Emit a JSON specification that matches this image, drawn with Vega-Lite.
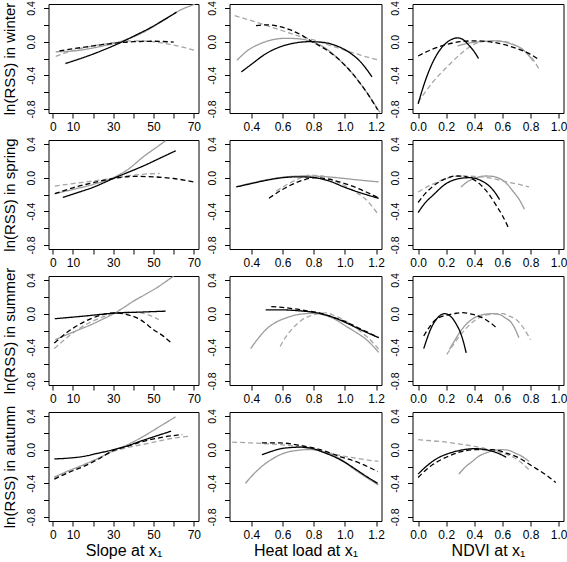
{
"$schema": "https://vega.github.io/schema/vega-lite/v6.json",
"padding": {"left": 1.5, "top": 0, "right": 0, "bottom": 0},
"background": "white",
"config": {
  "font": "Liberation Sans",
  "view": {"stroke": "black", "strokeWidth": 1},
  "axis": {"domain": false, "grid": false, "tickColor": "black", "tickSize": 5, "labelColor": "black", "titleColor": "black", "labelFont": "Liberation Sans", "titleFont": "Liberation Sans", "titleFontWeight": "normal", "labelOverlap": false},
  "axisX": {"labelFontSize": 12, "labelPadding": 3, "titleFontSize": 16, "titlePadding": 2, "labelFlush": false},
  "axisY": {"labelFontSize": 10.5, "labelAngle": -90, "labelPadding": 7, "titleFontSize": 15, "titlePadding": 9}
},
"data": {"values": [
{"s":"winter","v":"slope","m":"M1","x":1.5,"y":-0.12},{"s":"winter","v":"slope","m":"M1","x":8,"y":-0.115},{"s":"winter","v":"slope","m":"M1","x":14,"y":-0.1},{"s":"winter","v":"slope","m":"M1","x":20,"y":-0.075},{"s":"winter","v":"slope","m":"M1","x":26,"y":-0.045},{"s":"winter","v":"slope","m":"M1","x":32,"y":-0.01},{"s":"winter","v":"slope","m":"M1","x":38,"y":0.04},{"s":"winter","v":"slope","m":"M1","x":44,"y":0.1},{"s":"winter","v":"slope","m":"M1","x":50,"y":0.18},{"s":"winter","v":"slope","m":"M1","x":56,"y":0.27},{"s":"winter","v":"slope","m":"M1","x":62,"y":0.36},{"s":"winter","v":"slope","m":"M1","x":70.5,"y":0.445},
{"s":"winter","v":"slope","m":"M2","x":1.5,"y":-0.175},{"s":"winter","v":"slope","m":"M2","x":6,"y":-0.135},{"s":"winter","v":"slope","m":"M2","x":11,"y":-0.1},{"s":"winter","v":"slope","m":"M2","x":18,"y":-0.06},{"s":"winter","v":"slope","m":"M2","x":25,"y":-0.03},{"s":"winter","v":"slope","m":"M2","x":32,"y":-0.005},{"s":"winter","v":"slope","m":"M2","x":40,"y":0.01},{"s":"winter","v":"slope","m":"M2","x":47,"y":0.005},{"s":"winter","v":"slope","m":"M2","x":54,"y":-0.015},{"s":"winter","v":"slope","m":"M2","x":60,"y":-0.04},{"s":"winter","v":"slope","m":"M2","x":66,"y":-0.075},{"s":"winter","v":"slope","m":"M2","x":71.5,"y":-0.11},
{"s":"winter","v":"slope","m":"M3","x":6.3,"y":-0.26},{"s":"winter","v":"slope","m":"M3","x":12,"y":-0.215},{"s":"winter","v":"slope","m":"M3","x":18,"y":-0.165},{"s":"winter","v":"slope","m":"M3","x":24,"y":-0.11},{"s":"winter","v":"slope","m":"M3","x":30,"y":-0.05},{"s":"winter","v":"slope","m":"M3","x":36,"y":0.016},{"s":"winter","v":"slope","m":"M3","x":42,"y":0.087},{"s":"winter","v":"slope","m":"M3","x":48,"y":0.16},{"s":"winter","v":"slope","m":"M3","x":54,"y":0.243},{"s":"winter","v":"slope","m":"M3","x":61.4,"y":0.35},
{"s":"winter","v":"slope","m":"M4","x":3.3,"y":-0.11},{"s":"winter","v":"slope","m":"M4","x":10,"y":-0.085},{"s":"winter","v":"slope","m":"M4","x":20,"y":-0.05},{"s":"winter","v":"slope","m":"M4","x":30,"y":-0.02},{"s":"winter","v":"slope","m":"M4","x":40,"y":0},{"s":"winter","v":"slope","m":"M4","x":50,"y":0.005},{"s":"winter","v":"slope","m":"M4","x":60,"y":-0.005},
{"s":"winter","v":"heat","m":"M1","x":0.308,"y":-0.22},{"s":"winter","v":"heat","m":"M1","x":0.38,"y":-0.1},{"s":"winter","v":"heat","m":"M1","x":0.45,"y":-0.03},{"s":"winter","v":"heat","m":"M1","x":0.53,"y":0.02},{"s":"winter","v":"heat","m":"M1","x":0.62,"y":0.04},{"s":"winter","v":"heat","m":"M1","x":0.7,"y":0.035},{"s":"winter","v":"heat","m":"M1","x":0.78,"y":0.005},{"s":"winter","v":"heat","m":"M1","x":0.85,"y":-0.05},{"s":"winter","v":"heat","m":"M1","x":0.9,"y":-0.11},{"s":"winter","v":"heat","m":"M1","x":0.95,"y":-0.19},{"s":"winter","v":"heat","m":"M1","x":1.0,"y":-0.28},{"s":"winter","v":"heat","m":"M1","x":1.05,"y":-0.38},{"s":"winter","v":"heat","m":"M1","x":1.1,"y":-0.5},{"s":"winter","v":"heat","m":"M1","x":1.15,"y":-0.63},{"s":"winter","v":"heat","m":"M1","x":1.2,"y":-0.77},{"s":"winter","v":"heat","m":"M1","x":1.225,"y":-0.84},
{"s":"winter","v":"heat","m":"M2","x":0.293,"y":0.31},{"s":"winter","v":"heat","m":"M2","x":0.4,"y":0.25},{"s":"winter","v":"heat","m":"M2","x":0.5,"y":0.19},{"s":"winter","v":"heat","m":"M2","x":0.6,"y":0.13},{"s":"winter","v":"heat","m":"M2","x":0.7,"y":0.07},{"s":"winter","v":"heat","m":"M2","x":0.8,"y":0.02},{"s":"winter","v":"heat","m":"M2","x":0.9,"y":-0.04},{"s":"winter","v":"heat","m":"M2","x":1.0,"y":-0.1},{"s":"winter","v":"heat","m":"M2","x":1.1,"y":-0.16},{"s":"winter","v":"heat","m":"M2","x":1.22,"y":-0.22},
{"s":"winter","v":"heat","m":"M3","x":0.336,"y":-0.36},{"s":"winter","v":"heat","m":"M3","x":0.4,"y":-0.27},{"s":"winter","v":"heat","m":"M3","x":0.496,"y":-0.14},{"s":"winter","v":"heat","m":"M3","x":0.58,"y":-0.065},{"s":"winter","v":"heat","m":"M3","x":0.667,"y":-0.02},{"s":"winter","v":"heat","m":"M3","x":0.773,"y":0},{"s":"winter","v":"heat","m":"M3","x":0.858,"y":-0.008},{"s":"winter","v":"heat","m":"M3","x":0.944,"y":-0.048},{"s":"winter","v":"heat","m":"M3","x":1.029,"y":-0.128},{"s":"winter","v":"heat","m":"M3","x":1.104,"y":-0.247},{"s":"winter","v":"heat","m":"M3","x":1.174,"y":-0.418},
{"s":"winter","v":"heat","m":"M4","x":0.43,"y":0.19},{"s":"winter","v":"heat","m":"M4","x":0.5,"y":0.2},{"s":"winter","v":"heat","m":"M4","x":0.58,"y":0.18},{"s":"winter","v":"heat","m":"M4","x":0.65,"y":0.14},{"s":"winter","v":"heat","m":"M4","x":0.72,"y":0.08},{"s":"winter","v":"heat","m":"M4","x":0.8,"y":-0.01},{"s":"winter","v":"heat","m":"M4","x":0.9,"y":-0.12},{"s":"winter","v":"heat","m":"M4","x":1.0,"y":-0.28},{"s":"winter","v":"heat","m":"M4","x":1.1,"y":-0.5},{"s":"winter","v":"heat","m":"M4","x":1.15,"y":-0.63},{"s":"winter","v":"heat","m":"M4","x":1.21,"y":-0.81},
{"s":"winter","v":"ndvi","m":"M1","x":0.28,"y":-0.05},{"s":"winter","v":"ndvi","m":"M1","x":0.35,"y":-0.02},{"s":"winter","v":"ndvi","m":"M1","x":0.45,"y":0},{"s":"winter","v":"ndvi","m":"M1","x":0.55,"y":0.01},{"s":"winter","v":"ndvi","m":"M1","x":0.65,"y":-0.02},{"s":"winter","v":"ndvi","m":"M1","x":0.75,"y":-0.1},{"s":"winter","v":"ndvi","m":"M1","x":0.82,"y":-0.23},
{"s":"winter","v":"ndvi","m":"M2","x":0,"y":-0.72},{"s":"winter","v":"ndvi","m":"M2","x":0.1,"y":-0.49},{"s":"winter","v":"ndvi","m":"M2","x":0.2,"y":-0.31},{"s":"winter","v":"ndvi","m":"M2","x":0.3,"y":-0.15},{"s":"winter","v":"ndvi","m":"M2","x":0.4,"y":-0.03},{"s":"winter","v":"ndvi","m":"M2","x":0.5,"y":0.01},{"s":"winter","v":"ndvi","m":"M2","x":0.6,"y":0.005},{"s":"winter","v":"ndvi","m":"M2","x":0.7,"y":-0.05},{"s":"winter","v":"ndvi","m":"M2","x":0.78,"y":-0.14},{"s":"winter","v":"ndvi","m":"M2","x":0.83,"y":-0.24},{"s":"winter","v":"ndvi","m":"M2","x":0.865,"y":-0.34},
{"s":"winter","v":"ndvi","m":"M3","x":0,"y":-0.74},{"s":"winter","v":"ndvi","m":"M3","x":0.05,"y":-0.47},{"s":"winter","v":"ndvi","m":"M3","x":0.1,"y":-0.26},{"s":"winter","v":"ndvi","m":"M3","x":0.15,"y":-0.11},{"s":"winter","v":"ndvi","m":"M3","x":0.2,"y":-0.015},{"s":"winter","v":"ndvi","m":"M3","x":0.25,"y":0.035},{"s":"winter","v":"ndvi","m":"M3","x":0.28,"y":0.045},{"s":"winter","v":"ndvi","m":"M3","x":0.32,"y":0.025},{"s":"winter","v":"ndvi","m":"M3","x":0.36,"y":-0.04},{"s":"winter","v":"ndvi","m":"M3","x":0.4,"y":-0.12},{"s":"winter","v":"ndvi","m":"M3","x":0.43,"y":-0.2},
{"s":"winter","v":"ndvi","m":"M4","x":0,"y":-0.17},{"s":"winter","v":"ndvi","m":"M4","x":0.1,"y":-0.09},{"s":"winter","v":"ndvi","m":"M4","x":0.2,"y":-0.035},{"s":"winter","v":"ndvi","m":"M4","x":0.3,"y":0},{"s":"winter","v":"ndvi","m":"M4","x":0.4,"y":0.01},{"s":"winter","v":"ndvi","m":"M4","x":0.5,"y":0},{"s":"winter","v":"ndvi","m":"M4","x":0.6,"y":-0.03},{"s":"winter","v":"ndvi","m":"M4","x":0.7,"y":-0.08},{"s":"winter","v":"ndvi","m":"M4","x":0.8,"y":-0.15},{"s":"winter","v":"ndvi","m":"M4","x":0.865,"y":-0.22},
{"s":"spring","v":"slope","m":"M1","x":1,"y":-0.19},{"s":"spring","v":"slope","m":"M1","x":10,"y":-0.14},{"s":"spring","v":"slope","m":"M1","x":20,"y":-0.08},{"s":"spring","v":"slope","m":"M1","x":30,"y":0},{"s":"spring","v":"slope","m":"M1","x":38,"y":0.11},{"s":"spring","v":"slope","m":"M1","x":45,"y":0.25},{"s":"spring","v":"slope","m":"M1","x":52,"y":0.37},{"s":"spring","v":"slope","m":"M1","x":56,"y":0.44},
{"s":"spring","v":"slope","m":"M2","x":1,"y":-0.1},{"s":"spring","v":"slope","m":"M2","x":10,"y":-0.07},{"s":"spring","v":"slope","m":"M2","x":20,"y":-0.04},{"s":"spring","v":"slope","m":"M2","x":30,"y":-0.005},{"s":"spring","v":"slope","m":"M2","x":40,"y":0.03},{"s":"spring","v":"slope","m":"M2","x":47,"y":0.045},{"s":"spring","v":"slope","m":"M2","x":53,"y":0.05},
{"s":"spring","v":"slope","m":"M3","x":5,"y":-0.235},{"s":"spring","v":"slope","m":"M3","x":12,"y":-0.18},{"s":"spring","v":"slope","m":"M3","x":20,"y":-0.115},{"s":"spring","v":"slope","m":"M3","x":30,"y":-0.01},{"s":"spring","v":"slope","m":"M3","x":38,"y":0.07},{"s":"spring","v":"slope","m":"M3","x":45,"y":0.14},{"s":"spring","v":"slope","m":"M3","x":53,"y":0.23},{"s":"spring","v":"slope","m":"M3","x":61,"y":0.32},
{"s":"spring","v":"slope","m":"M4","x":1,"y":-0.19},{"s":"spring","v":"slope","m":"M4","x":10,"y":-0.12},{"s":"spring","v":"slope","m":"M4","x":20,"y":-0.06},{"s":"spring","v":"slope","m":"M4","x":30,"y":-0.01},{"s":"spring","v":"slope","m":"M4","x":40,"y":0.015},{"s":"spring","v":"slope","m":"M4","x":50,"y":0.01},{"s":"spring","v":"slope","m":"M4","x":60,"y":-0.01},{"s":"spring","v":"slope","m":"M4","x":70,"y":-0.05},
{"s":"spring","v":"heat","m":"M1","x":0.304,"y":-0.11},{"s":"spring","v":"heat","m":"M1","x":0.4,"y":-0.065},{"s":"spring","v":"heat","m":"M1","x":0.5,"y":-0.025},{"s":"spring","v":"heat","m":"M1","x":0.6,"y":0.005},{"s":"spring","v":"heat","m":"M1","x":0.73,"y":0.02},{"s":"spring","v":"heat","m":"M1","x":0.85,"y":0.015},{"s":"spring","v":"heat","m":"M1","x":1.0,"y":-0.01},{"s":"spring","v":"heat","m":"M1","x":1.1,"y":-0.03},{"s":"spring","v":"heat","m":"M1","x":1.217,"y":-0.05},
{"s":"spring","v":"heat","m":"M2","x":0.56,"y":-0.16},{"s":"spring","v":"heat","m":"M2","x":0.65,"y":-0.06},{"s":"spring","v":"heat","m":"M2","x":0.72,"y":0},{"s":"spring","v":"heat","m":"M2","x":0.77,"y":0.03},{"s":"spring","v":"heat","m":"M2","x":0.85,"y":0.02},{"s":"spring","v":"heat","m":"M2","x":0.95,"y":-0.05},{"s":"spring","v":"heat","m":"M2","x":1.05,"y":-0.15},{"s":"spring","v":"heat","m":"M2","x":1.13,"y":-0.25},{"s":"spring","v":"heat","m":"M2","x":1.217,"y":-0.445},
{"s":"spring","v":"heat","m":"M3","x":0.304,"y":-0.11},{"s":"spring","v":"heat","m":"M3","x":0.4,"y":-0.07},{"s":"spring","v":"heat","m":"M3","x":0.5,"y":-0.03},{"s":"spring","v":"heat","m":"M3","x":0.6,"y":0},{"s":"spring","v":"heat","m":"M3","x":0.7,"y":0.01},{"s":"spring","v":"heat","m":"M3","x":0.78,"y":0.005},{"s":"spring","v":"heat","m":"M3","x":0.9,"y":-0.04},{"s":"spring","v":"heat","m":"M3","x":1.0,"y":-0.115},{"s":"spring","v":"heat","m":"M3","x":1.1,"y":-0.18},{"s":"spring","v":"heat","m":"M3","x":1.217,"y":-0.245},
{"s":"spring","v":"heat","m":"M4","x":0.513,"y":-0.245},{"s":"spring","v":"heat","m":"M4","x":0.6,"y":-0.14},{"s":"spring","v":"heat","m":"M4","x":0.7,"y":-0.05},{"s":"spring","v":"heat","m":"M4","x":0.815,"y":0},{"s":"spring","v":"heat","m":"M4","x":0.9,"y":-0.02},{"s":"spring","v":"heat","m":"M4","x":1.0,"y":-0.07},{"s":"spring","v":"heat","m":"M4","x":1.1,"y":-0.14},{"s":"spring","v":"heat","m":"M4","x":1.217,"y":-0.24},
{"s":"spring","v":"ndvi","m":"M1","x":0.306,"y":-0.11},{"s":"spring","v":"ndvi","m":"M1","x":0.35,"y":-0.05},{"s":"spring","v":"ndvi","m":"M1","x":0.4,"y":-0.01},{"s":"spring","v":"ndvi","m":"M1","x":0.48,"y":0.02},{"s":"spring","v":"ndvi","m":"M1","x":0.53,"y":0.015},{"s":"spring","v":"ndvi","m":"M1","x":0.58,"y":-0.01},{"s":"spring","v":"ndvi","m":"M1","x":0.63,"y":-0.07},{"s":"spring","v":"ndvi","m":"M1","x":0.67,"y":-0.15},{"s":"spring","v":"ndvi","m":"M1","x":0.72,"y":-0.26},{"s":"spring","v":"ndvi","m":"M1","x":0.757,"y":-0.375},
{"s":"spring","v":"ndvi","m":"M2","x":0,"y":-0.17},{"s":"spring","v":"ndvi","m":"M2","x":0.1,"y":-0.08},{"s":"spring","v":"ndvi","m":"M2","x":0.2,"y":-0.01},{"s":"spring","v":"ndvi","m":"M2","x":0.29,"y":0.02},{"s":"spring","v":"ndvi","m":"M2","x":0.4,"y":0.015},{"s":"spring","v":"ndvi","m":"M2","x":0.53,"y":-0.01},{"s":"spring","v":"ndvi","m":"M2","x":0.63,"y":-0.05},{"s":"spring","v":"ndvi","m":"M2","x":0.72,"y":-0.08},{"s":"spring","v":"ndvi","m":"M2","x":0.79,"y":-0.11},
{"s":"spring","v":"ndvi","m":"M3","x":0,"y":-0.415},{"s":"spring","v":"ndvi","m":"M3","x":0.05,"y":-0.3},{"s":"spring","v":"ndvi","m":"M3","x":0.105,"y":-0.21},{"s":"spring","v":"ndvi","m":"M3","x":0.2,"y":-0.07},{"s":"spring","v":"ndvi","m":"M3","x":0.295,"y":-0.01},{"s":"spring","v":"ndvi","m":"M3","x":0.366,"y":0},{"s":"spring","v":"ndvi","m":"M3","x":0.42,"y":-0.015},{"s":"spring","v":"ndvi","m":"M3","x":0.46,"y":-0.045},{"s":"spring","v":"ndvi","m":"M3","x":0.5,"y":-0.09},{"s":"spring","v":"ndvi","m":"M3","x":0.54,"y":-0.16},{"s":"spring","v":"ndvi","m":"M3","x":0.58,"y":-0.26},
{"s":"spring","v":"ndvi","m":"M4","x":0,"y":-0.295},{"s":"spring","v":"ndvi","m":"M4","x":0.05,"y":-0.19},{"s":"spring","v":"ndvi","m":"M4","x":0.1,"y":-0.11},{"s":"spring","v":"ndvi","m":"M4","x":0.2,"y":-0.01},{"s":"spring","v":"ndvi","m":"M4","x":0.27,"y":0.02},{"s":"spring","v":"ndvi","m":"M4","x":0.33,"y":0.015},{"s":"spring","v":"ndvi","m":"M4","x":0.366,"y":0},{"s":"spring","v":"ndvi","m":"M4","x":0.42,"y":-0.05},{"s":"spring","v":"ndvi","m":"M4","x":0.46,"y":-0.11},{"s":"spring","v":"ndvi","m":"M4","x":0.51,"y":-0.21},{"s":"spring","v":"ndvi","m":"M4","x":0.556,"y":-0.33},{"s":"spring","v":"ndvi","m":"M4","x":0.6,"y":-0.45},{"s":"spring","v":"ndvi","m":"M4","x":0.64,"y":-0.585},
{"s":"summer","v":"slope","m":"M1","x":1.2,"y":-0.31},{"s":"summer","v":"slope","m":"M1","x":7,"y":-0.25},{"s":"summer","v":"slope","m":"M1","x":12,"y":-0.2},{"s":"summer","v":"slope","m":"M1","x":18.6,"y":-0.135},{"s":"summer","v":"slope","m":"M1","x":24,"y":-0.075},{"s":"summer","v":"slope","m":"M1","x":30.2,"y":0},{"s":"summer","v":"slope","m":"M1","x":35,"y":0.07},{"s":"summer","v":"slope","m":"M1","x":40.1,"y":0.15},{"s":"summer","v":"slope","m":"M1","x":46,"y":0.23},{"s":"summer","v":"slope","m":"M1","x":51.7,"y":0.31},{"s":"summer","v":"slope","m":"M1","x":58.4,"y":0.42},{"s":"summer","v":"slope","m":"M1","x":60,"y":0.445},
{"s":"summer","v":"slope","m":"M2","x":0.8,"y":-0.415},{"s":"summer","v":"slope","m":"M2","x":7,"y":-0.285},{"s":"summer","v":"slope","m":"M2","x":15.3,"y":-0.145},{"s":"summer","v":"slope","m":"M2","x":23.6,"y":-0.05},{"s":"summer","v":"slope","m":"M2","x":30.2,"y":0},{"s":"summer","v":"slope","m":"M2","x":36,"y":0.02},{"s":"summer","v":"slope","m":"M2","x":42,"y":0.015},{"s":"summer","v":"slope","m":"M2","x":47,"y":-0.01},{"s":"summer","v":"slope","m":"M2","x":52.6,"y":-0.07},
{"s":"summer","v":"slope","m":"M3","x":1,"y":-0.06},{"s":"summer","v":"slope","m":"M3","x":15,"y":-0.03},{"s":"summer","v":"slope","m":"M3","x":30,"y":0.005},{"s":"summer","v":"slope","m":"M3","x":45,"y":0.02},{"s":"summer","v":"slope","m":"M3","x":56,"y":0.03},
{"s":"summer","v":"slope","m":"M4","x":0.8,"y":-0.35},{"s":"summer","v":"slope","m":"M4","x":7,"y":-0.225},{"s":"summer","v":"slope","m":"M4","x":15.3,"y":-0.1},{"s":"summer","v":"slope","m":"M4","x":23.6,"y":-0.02},{"s":"summer","v":"slope","m":"M4","x":30.2,"y":0.01},{"s":"summer","v":"slope","m":"M4","x":36.8,"y":-0.01},{"s":"summer","v":"slope","m":"M4","x":43.4,"y":-0.07},{"s":"summer","v":"slope","m":"M4","x":50,"y":-0.19},{"s":"summer","v":"slope","m":"M4","x":55,"y":-0.27},{"s":"summer","v":"slope","m":"M4","x":59.2,"y":-0.355},
{"s":"summer","v":"heat","m":"M1","x":0.396,"y":-0.415},{"s":"summer","v":"heat","m":"M1","x":0.45,"y":-0.28},{"s":"summer","v":"heat","m":"M1","x":0.496,"y":-0.185},{"s":"summer","v":"heat","m":"M1","x":0.56,"y":-0.1},{"s":"summer","v":"heat","m":"M1","x":0.624,"y":-0.05},{"s":"summer","v":"heat","m":"M1","x":0.7,"y":-0.01},{"s":"summer","v":"heat","m":"M1","x":0.75,"y":0},{"s":"summer","v":"heat","m":"M1","x":0.8,"y":0.005},{"s":"summer","v":"heat","m":"M1","x":0.857,"y":-0.01},{"s":"summer","v":"heat","m":"M1","x":0.93,"y":-0.06},{"s":"summer","v":"heat","m":"M1","x":1.008,"y":-0.15},{"s":"summer","v":"heat","m":"M1","x":1.07,"y":-0.22},{"s":"summer","v":"heat","m":"M1","x":1.136,"y":-0.305},{"s":"summer","v":"heat","m":"M1","x":1.217,"y":-0.46},
{"s":"summer","v":"heat","m":"M2","x":0.585,"y":-0.39},{"s":"summer","v":"heat","m":"M2","x":0.62,"y":-0.28},{"s":"summer","v":"heat","m":"M2","x":0.667,"y":-0.17},{"s":"summer","v":"heat","m":"M2","x":0.72,"y":-0.08},{"s":"summer","v":"heat","m":"M2","x":0.773,"y":-0.03},{"s":"summer","v":"heat","m":"M2","x":0.83,"y":0},{"s":"summer","v":"heat","m":"M2","x":0.88,"y":0.01},{"s":"summer","v":"heat","m":"M2","x":0.94,"y":-0.03},{"s":"summer","v":"heat","m":"M2","x":1.008,"y":-0.09},{"s":"summer","v":"heat","m":"M2","x":1.07,"y":-0.17},{"s":"summer","v":"heat","m":"M2","x":1.136,"y":-0.265},{"s":"summer","v":"heat","m":"M2","x":1.217,"y":-0.42},
{"s":"summer","v":"heat","m":"M3","x":0.492,"y":0.045},{"s":"summer","v":"heat","m":"M3","x":0.6,"y":0.045},{"s":"summer","v":"heat","m":"M3","x":0.7,"y":0.035},{"s":"summer","v":"heat","m":"M3","x":0.82,"y":0.01},{"s":"summer","v":"heat","m":"M3","x":0.92,"y":-0.04},{"s":"summer","v":"heat","m":"M3","x":1.01,"y":-0.11},{"s":"summer","v":"heat","m":"M3","x":1.1,"y":-0.19},{"s":"summer","v":"heat","m":"M3","x":1.217,"y":-0.285},
{"s":"summer","v":"heat","m":"M4","x":0.528,"y":0.085},{"s":"summer","v":"heat","m":"M4","x":0.6,"y":0.075},{"s":"summer","v":"heat","m":"M4","x":0.667,"y":0.06},{"s":"summer","v":"heat","m":"M4","x":0.75,"y":0.035},{"s":"summer","v":"heat","m":"M4","x":0.836,"y":0.01},{"s":"summer","v":"heat","m":"M4","x":0.92,"y":-0.04},{"s":"summer","v":"heat","m":"M4","x":1.01,"y":-0.1},{"s":"summer","v":"heat","m":"M4","x":1.1,"y":-0.18},{"s":"summer","v":"heat","m":"M4","x":1.217,"y":-0.285},
{"s":"summer","v":"ndvi","m":"M1","x":0.223,"y":-0.425},{"s":"summer","v":"ndvi","m":"M1","x":0.26,"y":-0.32},{"s":"summer","v":"ndvi","m":"M1","x":0.295,"y":-0.225},{"s":"summer","v":"ndvi","m":"M1","x":0.34,"y":-0.13},{"s":"summer","v":"ndvi","m":"M1","x":0.39,"y":-0.06},{"s":"summer","v":"ndvi","m":"M1","x":0.44,"y":-0.02},{"s":"summer","v":"ndvi","m":"M1","x":0.485,"y":-0.005},{"s":"summer","v":"ndvi","m":"M1","x":0.53,"y":0},{"s":"summer","v":"ndvi","m":"M1","x":0.58,"y":-0.01},{"s":"summer","v":"ndvi","m":"M1","x":0.62,"y":-0.05},{"s":"summer","v":"ndvi","m":"M1","x":0.663,"y":-0.105},{"s":"summer","v":"ndvi","m":"M1","x":0.69,"y":-0.18},{"s":"summer","v":"ndvi","m":"M1","x":0.717,"y":-0.285},
{"s":"summer","v":"ndvi","m":"M2","x":0.204,"y":-0.485},{"s":"summer","v":"ndvi","m":"M2","x":0.25,"y":-0.37},{"s":"summer","v":"ndvi","m":"M2","x":0.295,"y":-0.265},{"s":"summer","v":"ndvi","m":"M2","x":0.35,"y":-0.16},{"s":"summer","v":"ndvi","m":"M2","x":0.4,"y":-0.085},{"s":"summer","v":"ndvi","m":"M2","x":0.45,"y":-0.035},{"s":"summer","v":"ndvi","m":"M2","x":0.508,"y":-0.01},{"s":"summer","v":"ndvi","m":"M2","x":0.56,"y":0},{"s":"summer","v":"ndvi","m":"M2","x":0.603,"y":0},{"s":"summer","v":"ndvi","m":"M2","x":0.65,"y":-0.03},{"s":"summer","v":"ndvi","m":"M2","x":0.698,"y":-0.07},{"s":"summer","v":"ndvi","m":"M2","x":0.75,"y":-0.17},{"s":"summer","v":"ndvi","m":"M2","x":0.8,"y":-0.31},
{"s":"summer","v":"ndvi","m":"M3","x":0.04,"y":-0.415},{"s":"summer","v":"ndvi","m":"M3","x":0.065,"y":-0.29},{"s":"summer","v":"ndvi","m":"M3","x":0.093,"y":-0.17},{"s":"summer","v":"ndvi","m":"M3","x":0.12,"y":-0.09},{"s":"summer","v":"ndvi","m":"M3","x":0.152,"y":-0.027},{"s":"summer","v":"ndvi","m":"M3","x":0.19,"y":0},{"s":"summer","v":"ndvi","m":"M3","x":0.22,"y":-0.017},{"s":"summer","v":"ndvi","m":"M3","x":0.247,"y":-0.06},{"s":"summer","v":"ndvi","m":"M3","x":0.27,"y":-0.12},{"s":"summer","v":"ndvi","m":"M3","x":0.295,"y":-0.2},{"s":"summer","v":"ndvi","m":"M3","x":0.32,"y":-0.32},{"s":"summer","v":"ndvi","m":"M3","x":0.342,"y":-0.465},
{"s":"summer","v":"ndvi","m":"M4","x":0.04,"y":-0.265},{"s":"summer","v":"ndvi","m":"M4","x":0.08,"y":-0.16},{"s":"summer","v":"ndvi","m":"M4","x":0.128,"y":-0.067},{"s":"summer","v":"ndvi","m":"M4","x":0.175,"y":-0.03},{"s":"summer","v":"ndvi","m":"M4","x":0.223,"y":-0.01},{"s":"summer","v":"ndvi","m":"M4","x":0.27,"y":0.005},{"s":"summer","v":"ndvi","m":"M4","x":0.318,"y":0.012},{"s":"summer","v":"ndvi","m":"M4","x":0.365,"y":0},{"s":"summer","v":"ndvi","m":"M4","x":0.413,"y":-0.02},{"s":"summer","v":"ndvi","m":"M4","x":0.45,"y":-0.045},{"s":"summer","v":"ndvi","m":"M4","x":0.485,"y":-0.075},{"s":"summer","v":"ndvi","m":"M4","x":0.52,"y":-0.115},{"s":"summer","v":"ndvi","m":"M4","x":0.556,"y":-0.166},
{"s":"autumn","v":"slope","m":"M1","x":0.8,"y":-0.325},{"s":"autumn","v":"slope","m":"M1","x":8,"y":-0.25},{"s":"autumn","v":"slope","m":"M1","x":15.3,"y":-0.18},{"s":"autumn","v":"slope","m":"M1","x":22,"y":-0.11},{"s":"autumn","v":"slope","m":"M1","x":30.2,"y":-0.01},{"s":"autumn","v":"slope","m":"M1","x":38,"y":0.07},{"s":"autumn","v":"slope","m":"M1","x":45.1,"y":0.16},{"s":"autumn","v":"slope","m":"M1","x":52,"y":0.26},{"s":"autumn","v":"slope","m":"M1","x":60.9,"y":0.39},
{"s":"autumn","v":"slope","m":"M2","x":0.8,"y":-0.34},{"s":"autumn","v":"slope","m":"M2","x":8,"y":-0.26},{"s":"autumn","v":"slope","m":"M2","x":15.3,"y":-0.18},{"s":"autumn","v":"slope","m":"M2","x":22,"y":-0.11},{"s":"autumn","v":"slope","m":"M2","x":30.2,"y":-0.02},{"s":"autumn","v":"slope","m":"M2","x":38,"y":0.03},{"s":"autumn","v":"slope","m":"M2","x":48.4,"y":0.08},{"s":"autumn","v":"slope","m":"M2","x":58,"y":0.13},{"s":"autumn","v":"slope","m":"M2","x":68.3,"y":0.16},
{"s":"autumn","v":"slope","m":"M3","x":0.8,"y":-0.11},{"s":"autumn","v":"slope","m":"M3","x":8,"y":-0.1},{"s":"autumn","v":"slope","m":"M3","x":15.3,"y":-0.08},{"s":"autumn","v":"slope","m":"M3","x":22,"y":-0.045},{"s":"autumn","v":"slope","m":"M3","x":30.2,"y":0},{"s":"autumn","v":"slope","m":"M3","x":37,"y":0.045},{"s":"autumn","v":"slope","m":"M3","x":43.4,"y":0.1},{"s":"autumn","v":"slope","m":"M3","x":51,"y":0.16},{"s":"autumn","v":"slope","m":"M3","x":58.7,"y":0.22},
{"s":"autumn","v":"slope","m":"M4","x":0.8,"y":-0.35},{"s":"autumn","v":"slope","m":"M4","x":8,"y":-0.27},{"s":"autumn","v":"slope","m":"M4","x":15.3,"y":-0.2},{"s":"autumn","v":"slope","m":"M4","x":22,"y":-0.12},{"s":"autumn","v":"slope","m":"M4","x":30.2,"y":-0.01},{"s":"autumn","v":"slope","m":"M4","x":37,"y":0.04},{"s":"autumn","v":"slope","m":"M4","x":45,"y":0.1},{"s":"autumn","v":"slope","m":"M4","x":55,"y":0.15},{"s":"autumn","v":"slope","m":"M4","x":64.2,"y":0.18},
{"s":"autumn","v":"heat","m":"M1","x":0.362,"y":-0.4},{"s":"autumn","v":"heat","m":"M1","x":0.42,"y":-0.28},{"s":"autumn","v":"heat","m":"M1","x":0.48,"y":-0.18},{"s":"autumn","v":"heat","m":"M1","x":0.53,"y":-0.115},{"s":"autumn","v":"heat","m":"M1","x":0.585,"y":-0.06},{"s":"autumn","v":"heat","m":"M1","x":0.64,"y":-0.025},{"s":"autumn","v":"heat","m":"M1","x":0.69,"y":-0.01},{"s":"autumn","v":"heat","m":"M1","x":0.75,"y":0},{"s":"autumn","v":"heat","m":"M1","x":0.8,"y":0},{"s":"autumn","v":"heat","m":"M1","x":0.85,"y":-0.02},{"s":"autumn","v":"heat","m":"M1","x":0.905,"y":-0.05},{"s":"autumn","v":"heat","m":"M1","x":0.98,"y":-0.12},{"s":"autumn","v":"heat","m":"M1","x":1.05,"y":-0.22},{"s":"autumn","v":"heat","m":"M1","x":1.13,"y":-0.32},{"s":"autumn","v":"heat","m":"M1","x":1.215,"y":-0.42},
{"s":"autumn","v":"heat","m":"M2","x":0.277,"y":0.09},{"s":"autumn","v":"heat","m":"M2","x":0.4,"y":0.08},{"s":"autumn","v":"heat","m":"M2","x":0.5,"y":0.07},{"s":"autumn","v":"heat","m":"M2","x":0.585,"y":0.06},{"s":"autumn","v":"heat","m":"M2","x":0.7,"y":0.035},{"s":"autumn","v":"heat","m":"M2","x":0.8,"y":0},{"s":"autumn","v":"heat","m":"M2","x":0.9,"y":-0.04},{"s":"autumn","v":"heat","m":"M2","x":1.0,"y":-0.08},{"s":"autumn","v":"heat","m":"M2","x":1.1,"y":-0.11},{"s":"autumn","v":"heat","m":"M2","x":1.215,"y":-0.14},
{"s":"autumn","v":"heat","m":"M3","x":0.468,"y":-0.06},{"s":"autumn","v":"heat","m":"M3","x":0.53,"y":-0.02},{"s":"autumn","v":"heat","m":"M3","x":0.585,"y":0.01},{"s":"autumn","v":"heat","m":"M3","x":0.65,"y":0.025},{"s":"autumn","v":"heat","m":"M3","x":0.713,"y":0.03},{"s":"autumn","v":"heat","m":"M3","x":0.8,"y":0.01},{"s":"autumn","v":"heat","m":"M3","x":0.86,"y":-0.03},{"s":"autumn","v":"heat","m":"M3","x":0.927,"y":-0.08},{"s":"autumn","v":"heat","m":"M3","x":1.0,"y":-0.15},{"s":"autumn","v":"heat","m":"M3","x":1.075,"y":-0.24},{"s":"autumn","v":"heat","m":"M3","x":1.14,"y":-0.32},{"s":"autumn","v":"heat","m":"M3","x":1.21,"y":-0.4},
{"s":"autumn","v":"heat","m":"M4","x":0.468,"y":0.08},{"s":"autumn","v":"heat","m":"M4","x":0.585,"y":0.08},{"s":"autumn","v":"heat","m":"M4","x":0.713,"y":0.05},{"s":"autumn","v":"heat","m":"M4","x":0.842,"y":0},{"s":"autumn","v":"heat","m":"M4","x":0.968,"y":-0.08},{"s":"autumn","v":"heat","m":"M4","x":1.095,"y":-0.16},{"s":"autumn","v":"heat","m":"M4","x":1.21,"y":-0.26},
{"s":"autumn","v":"ndvi","m":"M1","x":0.29,"y":-0.29},{"s":"autumn","v":"ndvi","m":"M1","x":0.34,"y":-0.2},{"s":"autumn","v":"ndvi","m":"M1","x":0.386,"y":-0.14},{"s":"autumn","v":"ndvi","m":"M1","x":0.43,"y":-0.08},{"s":"autumn","v":"ndvi","m":"M1","x":0.48,"y":-0.04},{"s":"autumn","v":"ndvi","m":"M1","x":0.54,"y":-0.01},{"s":"autumn","v":"ndvi","m":"M1","x":0.6,"y":0},{"s":"autumn","v":"ndvi","m":"M1","x":0.65,"y":-0.01},{"s":"autumn","v":"ndvi","m":"M1","x":0.69,"y":-0.04},{"s":"autumn","v":"ndvi","m":"M1","x":0.74,"y":-0.08},{"s":"autumn","v":"ndvi","m":"M1","x":0.79,"y":-0.14},
{"s":"autumn","v":"ndvi","m":"M2","x":0,"y":0.12},{"s":"autumn","v":"ndvi","m":"M2","x":0.1,"y":0.105},{"s":"autumn","v":"ndvi","m":"M2","x":0.2,"y":0.09},{"s":"autumn","v":"ndvi","m":"M2","x":0.3,"y":0.065},{"s":"autumn","v":"ndvi","m":"M2","x":0.4,"y":0.04},{"s":"autumn","v":"ndvi","m":"M2","x":0.5,"y":0.005},{"s":"autumn","v":"ndvi","m":"M2","x":0.6,"y":-0.04},{"s":"autumn","v":"ndvi","m":"M2","x":0.7,"y":-0.11},{"s":"autumn","v":"ndvi","m":"M2","x":0.79,"y":-0.24},
{"s":"autumn","v":"ndvi","m":"M3","x":0,"y":-0.29},{"s":"autumn","v":"ndvi","m":"M3","x":0.05,"y":-0.21},{"s":"autumn","v":"ndvi","m":"M3","x":0.102,"y":-0.14},{"s":"autumn","v":"ndvi","m":"M3","x":0.15,"y":-0.09},{"s":"autumn","v":"ndvi","m":"M3","x":0.2,"y":-0.055},{"s":"autumn","v":"ndvi","m":"M3","x":0.293,"y":-0.01},{"s":"autumn","v":"ndvi","m":"M3","x":0.4,"y":0.012},{"s":"autumn","v":"ndvi","m":"M3","x":0.483,"y":0},{"s":"autumn","v":"ndvi","m":"M3","x":0.53,"y":-0.02},{"s":"autumn","v":"ndvi","m":"M3","x":0.579,"y":-0.05},{"s":"autumn","v":"ndvi","m":"M3","x":0.627,"y":-0.09},
{"s":"autumn","v":"ndvi","m":"M4","x":0,"y":-0.33},{"s":"autumn","v":"ndvi","m":"M4","x":0.05,"y":-0.25},{"s":"autumn","v":"ndvi","m":"M4","x":0.102,"y":-0.18},{"s":"autumn","v":"ndvi","m":"M4","x":0.2,"y":-0.09},{"s":"autumn","v":"ndvi","m":"M4","x":0.293,"y":-0.03},{"s":"autumn","v":"ndvi","m":"M4","x":0.4,"y":0},{"s":"autumn","v":"ndvi","m":"M4","x":0.53,"y":0},{"s":"autumn","v":"ndvi","m":"M4","x":0.627,"y":-0.04},{"s":"autumn","v":"ndvi","m":"M4","x":0.72,"y":-0.1},{"s":"autumn","v":"ndvi","m":"M4","x":0.817,"y":-0.2},{"s":"autumn","v":"ndvi","m":"M4","x":0.91,"y":-0.3},{"s":"autumn","v":"ndvi","m":"M4","x":0.98,"y":-0.39}
]},
"columns": 3,
"spacing": {"row": 27, "column": 31},
"bounds": "flush",
"concat": [
{"width":150,"height":109,"transform":[{"filter":"datum.s=='winter' && datum.v=='slope'"}],"mark":{"type":"line","clip":true,"strokeWidth":1.3,"interpolate":"monotone"},"encoding":{
 "x":{"field":"x","type":"quantitative","scale":{"domain":[-2.1,72.3],"nice":false,"zero":false},"axis":{"values":[0,10,20,30,40,50,60,70],"labelExpr":"datum.value==20||datum.value==40||datum.value==60?'':datum.label","title":null}},
 "y":{"field":"y","type":"quantitative","scale":{"domain":[-0.848,0.448],"nice":false,"zero":false},"axis":{"values":[-0.8,-0.6,-0.4,-0.2,0,0.2,0.4],"labelExpr":"datum.value<-0.7?'-0.8':abs(datum.value+0.4)<0.01?'-0.4':abs(datum.value)<0.01?'0.0':datum.value>0.3?'0.4':''","title":"ln(RSS) in winter"}},
 "color":{"field":"m","type":"nominal","scale":{"domain":["M1","M2","M3","M4"],"range":["#9c9c9c","#a6a6a6","#000000","#000000"]},"legend":null},
 "strokeDash":{"field":"m","type":"nominal","scale":{"domain":["M1","M2","M3","M4"],"range":[[1,0],[5,3],[1,0],[5,3]]},"legend":null}}},
{"width":152,"height":109,"transform":[{"filter":"datum.s=='winter' && datum.v=='heat'"}],"mark":{"type":"line","clip":true,"strokeWidth":1.3,"interpolate":"monotone"},"encoding":{
 "x":{"field":"x","type":"quantitative","scale":{"domain":[0.26,1.235],"nice":false,"zero":false},"axis":{"values":[0.4,0.6,0.8,1.0,1.2],"format":".1f","title":null}},
 "y":{"field":"y","type":"quantitative","scale":{"domain":[-0.848,0.448],"nice":false,"zero":false},"axis":{"values":[-0.8,-0.6,-0.4,-0.2,0,0.2,0.4],"labelExpr":"datum.value<-0.7?'-0.8':abs(datum.value+0.4)<0.01?'-0.4':abs(datum.value)<0.01?'0.0':datum.value>0.3?'0.4':''","title":null}},
 "color":{"field":"m","type":"nominal","scale":{"domain":["M1","M2","M3","M4"],"range":["#9c9c9c","#a6a6a6","#000000","#000000"]},"legend":null},
 "strokeDash":{"field":"m","type":"nominal","scale":{"domain":["M1","M2","M3","M4"],"range":[[1,0],[5,3],[1,0],[5,3]]},"legend":null}}},
{"width":151,"height":109,"transform":[{"filter":"datum.s=='winter' && datum.v=='ndvi'"}],"mark":{"type":"line","clip":true,"strokeWidth":1.3,"interpolate":"monotone"},"encoding":{
 "x":{"field":"x","type":"quantitative","scale":{"domain":[-0.04,1.035],"nice":false,"zero":false},"axis":{"values":[0,0.2,0.4,0.6,0.8,1.0],"format":".1f","title":null}},
 "y":{"field":"y","type":"quantitative","scale":{"domain":[-0.848,0.448],"nice":false,"zero":false},"axis":{"values":[-0.8,-0.6,-0.4,-0.2,0,0.2,0.4],"labelExpr":"datum.value<-0.7?'-0.8':abs(datum.value+0.4)<0.01?'-0.4':abs(datum.value)<0.01?'0.0':datum.value>0.3?'0.4':''","title":null}},
 "color":{"field":"m","type":"nominal","scale":{"domain":["M1","M2","M3","M4"],"range":["#9c9c9c","#a6a6a6","#000000","#000000"]},"legend":null},
 "strokeDash":{"field":"m","type":"nominal","scale":{"domain":["M1","M2","M3","M4"],"range":[[1,0],[5,3],[1,0],[5,3]]},"legend":null}}},
{"width":150,"height":109,"transform":[{"filter":"datum.s=='spring' && datum.v=='slope'"}],"mark":{"type":"line","clip":true,"strokeWidth":1.3,"interpolate":"monotone"},"encoding":{
 "x":{"field":"x","type":"quantitative","scale":{"domain":[-2.1,72.3],"nice":false,"zero":false},"axis":{"values":[0,10,20,30,40,50,60,70],"labelExpr":"datum.value==20||datum.value==40||datum.value==60?'':datum.label","title":null}},
 "y":{"field":"y","type":"quantitative","scale":{"domain":[-0.848,0.448],"nice":false,"zero":false},"axis":{"values":[-0.8,-0.6,-0.4,-0.2,0,0.2,0.4],"labelExpr":"datum.value<-0.7?'-0.8':abs(datum.value+0.4)<0.01?'-0.4':abs(datum.value)<0.01?'0.0':datum.value>0.3?'0.4':''","title":"ln(RSS) in spring"}},
 "color":{"field":"m","type":"nominal","scale":{"domain":["M1","M2","M3","M4"],"range":["#9c9c9c","#a6a6a6","#000000","#000000"]},"legend":null},
 "strokeDash":{"field":"m","type":"nominal","scale":{"domain":["M1","M2","M3","M4"],"range":[[1,0],[5,3],[1,0],[5,3]]},"legend":null}}},
{"width":152,"height":109,"transform":[{"filter":"datum.s=='spring' && datum.v=='heat'"}],"mark":{"type":"line","clip":true,"strokeWidth":1.3,"interpolate":"monotone"},"encoding":{
 "x":{"field":"x","type":"quantitative","scale":{"domain":[0.26,1.235],"nice":false,"zero":false},"axis":{"values":[0.4,0.6,0.8,1.0,1.2],"format":".1f","title":null}},
 "y":{"field":"y","type":"quantitative","scale":{"domain":[-0.848,0.448],"nice":false,"zero":false},"axis":{"values":[-0.8,-0.6,-0.4,-0.2,0,0.2,0.4],"labelExpr":"datum.value<-0.7?'-0.8':abs(datum.value+0.4)<0.01?'-0.4':abs(datum.value)<0.01?'0.0':datum.value>0.3?'0.4':''","title":null}},
 "color":{"field":"m","type":"nominal","scale":{"domain":["M1","M2","M3","M4"],"range":["#9c9c9c","#a6a6a6","#000000","#000000"]},"legend":null},
 "strokeDash":{"field":"m","type":"nominal","scale":{"domain":["M1","M2","M3","M4"],"range":[[1,0],[5,3],[1,0],[5,3]]},"legend":null}}},
{"width":151,"height":109,"transform":[{"filter":"datum.s=='spring' && datum.v=='ndvi'"}],"mark":{"type":"line","clip":true,"strokeWidth":1.3,"interpolate":"monotone"},"encoding":{
 "x":{"field":"x","type":"quantitative","scale":{"domain":[-0.04,1.035],"nice":false,"zero":false},"axis":{"values":[0,0.2,0.4,0.6,0.8,1.0],"format":".1f","title":null}},
 "y":{"field":"y","type":"quantitative","scale":{"domain":[-0.848,0.448],"nice":false,"zero":false},"axis":{"values":[-0.8,-0.6,-0.4,-0.2,0,0.2,0.4],"labelExpr":"datum.value<-0.7?'-0.8':abs(datum.value+0.4)<0.01?'-0.4':abs(datum.value)<0.01?'0.0':datum.value>0.3?'0.4':''","title":null}},
 "color":{"field":"m","type":"nominal","scale":{"domain":["M1","M2","M3","M4"],"range":["#9c9c9c","#a6a6a6","#000000","#000000"]},"legend":null},
 "strokeDash":{"field":"m","type":"nominal","scale":{"domain":["M1","M2","M3","M4"],"range":[[1,0],[5,3],[1,0],[5,3]]},"legend":null}}},
{"width":150,"height":109,"transform":[{"filter":"datum.s=='summer' && datum.v=='slope'"}],"mark":{"type":"line","clip":true,"strokeWidth":1.3,"interpolate":"monotone"},"encoding":{
 "x":{"field":"x","type":"quantitative","scale":{"domain":[-2.1,72.3],"nice":false,"zero":false},"axis":{"values":[0,10,20,30,40,50,60,70],"labelExpr":"datum.value==20||datum.value==40||datum.value==60?'':datum.label","title":null}},
 "y":{"field":"y","type":"quantitative","scale":{"domain":[-0.848,0.448],"nice":false,"zero":false},"axis":{"values":[-0.8,-0.6,-0.4,-0.2,0,0.2,0.4],"labelExpr":"datum.value<-0.7?'-0.8':abs(datum.value+0.4)<0.01?'-0.4':abs(datum.value)<0.01?'0.0':datum.value>0.3?'0.4':''","title":"ln(RSS) in summer"}},
 "color":{"field":"m","type":"nominal","scale":{"domain":["M1","M2","M3","M4"],"range":["#9c9c9c","#a6a6a6","#000000","#000000"]},"legend":null},
 "strokeDash":{"field":"m","type":"nominal","scale":{"domain":["M1","M2","M3","M4"],"range":[[1,0],[5,3],[1,0],[5,3]]},"legend":null}}},
{"width":152,"height":109,"transform":[{"filter":"datum.s=='summer' && datum.v=='heat'"}],"mark":{"type":"line","clip":true,"strokeWidth":1.3,"interpolate":"monotone"},"encoding":{
 "x":{"field":"x","type":"quantitative","scale":{"domain":[0.26,1.235],"nice":false,"zero":false},"axis":{"values":[0.4,0.6,0.8,1.0,1.2],"format":".1f","title":null}},
 "y":{"field":"y","type":"quantitative","scale":{"domain":[-0.848,0.448],"nice":false,"zero":false},"axis":{"values":[-0.8,-0.6,-0.4,-0.2,0,0.2,0.4],"labelExpr":"datum.value<-0.7?'-0.8':abs(datum.value+0.4)<0.01?'-0.4':abs(datum.value)<0.01?'0.0':datum.value>0.3?'0.4':''","title":null}},
 "color":{"field":"m","type":"nominal","scale":{"domain":["M1","M2","M3","M4"],"range":["#9c9c9c","#a6a6a6","#000000","#000000"]},"legend":null},
 "strokeDash":{"field":"m","type":"nominal","scale":{"domain":["M1","M2","M3","M4"],"range":[[1,0],[5,3],[1,0],[5,3]]},"legend":null}}},
{"width":151,"height":109,"transform":[{"filter":"datum.s=='summer' && datum.v=='ndvi'"}],"mark":{"type":"line","clip":true,"strokeWidth":1.3,"interpolate":"monotone"},"encoding":{
 "x":{"field":"x","type":"quantitative","scale":{"domain":[-0.04,1.035],"nice":false,"zero":false},"axis":{"values":[0,0.2,0.4,0.6,0.8,1.0],"format":".1f","title":null}},
 "y":{"field":"y","type":"quantitative","scale":{"domain":[-0.848,0.448],"nice":false,"zero":false},"axis":{"values":[-0.8,-0.6,-0.4,-0.2,0,0.2,0.4],"labelExpr":"datum.value<-0.7?'-0.8':abs(datum.value+0.4)<0.01?'-0.4':abs(datum.value)<0.01?'0.0':datum.value>0.3?'0.4':''","title":null}},
 "color":{"field":"m","type":"nominal","scale":{"domain":["M1","M2","M3","M4"],"range":["#9c9c9c","#a6a6a6","#000000","#000000"]},"legend":null},
 "strokeDash":{"field":"m","type":"nominal","scale":{"domain":["M1","M2","M3","M4"],"range":[[1,0],[5,3],[1,0],[5,3]]},"legend":null}}},
{"width":150,"height":109,"transform":[{"filter":"datum.s=='autumn' && datum.v=='slope'"}],"mark":{"type":"line","clip":true,"strokeWidth":1.3,"interpolate":"monotone"},"encoding":{
 "x":{"field":"x","type":"quantitative","scale":{"domain":[-2.1,72.3],"nice":false,"zero":false},"axis":{"values":[0,10,20,30,40,50,60,70],"labelExpr":"datum.value==20||datum.value==40||datum.value==60?'':datum.label","title":"Slope at x₁"}},
 "y":{"field":"y","type":"quantitative","scale":{"domain":[-0.848,0.448],"nice":false,"zero":false},"axis":{"values":[-0.8,-0.6,-0.4,-0.2,0,0.2,0.4],"labelExpr":"datum.value<-0.7?'-0.8':abs(datum.value+0.4)<0.01?'-0.4':abs(datum.value)<0.01?'0.0':datum.value>0.3?'0.4':''","title":"ln(RSS) in autumn"}},
 "color":{"field":"m","type":"nominal","scale":{"domain":["M1","M2","M3","M4"],"range":["#9c9c9c","#a6a6a6","#000000","#000000"]},"legend":null},
 "strokeDash":{"field":"m","type":"nominal","scale":{"domain":["M1","M2","M3","M4"],"range":[[1,0],[5,3],[1,0],[5,3]]},"legend":null}}},
{"width":152,"height":109,"transform":[{"filter":"datum.s=='autumn' && datum.v=='heat'"}],"mark":{"type":"line","clip":true,"strokeWidth":1.3,"interpolate":"monotone"},"encoding":{
 "x":{"field":"x","type":"quantitative","scale":{"domain":[0.26,1.235],"nice":false,"zero":false},"axis":{"values":[0.4,0.6,0.8,1.0,1.2],"format":".1f","title":"Heat load at x₁"}},
 "y":{"field":"y","type":"quantitative","scale":{"domain":[-0.848,0.448],"nice":false,"zero":false},"axis":{"values":[-0.8,-0.6,-0.4,-0.2,0,0.2,0.4],"labelExpr":"datum.value<-0.7?'-0.8':abs(datum.value+0.4)<0.01?'-0.4':abs(datum.value)<0.01?'0.0':datum.value>0.3?'0.4':''","title":null}},
 "color":{"field":"m","type":"nominal","scale":{"domain":["M1","M2","M3","M4"],"range":["#9c9c9c","#a6a6a6","#000000","#000000"]},"legend":null},
 "strokeDash":{"field":"m","type":"nominal","scale":{"domain":["M1","M2","M3","M4"],"range":[[1,0],[5,3],[1,0],[5,3]]},"legend":null}}},
{"width":151,"height":109,"transform":[{"filter":"datum.s=='autumn' && datum.v=='ndvi'"}],"mark":{"type":"line","clip":true,"strokeWidth":1.3,"interpolate":"monotone"},"encoding":{
 "x":{"field":"x","type":"quantitative","scale":{"domain":[-0.04,1.035],"nice":false,"zero":false},"axis":{"values":[0,0.2,0.4,0.6,0.8,1.0],"format":".1f","title":"NDVI at x₁"}},
 "y":{"field":"y","type":"quantitative","scale":{"domain":[-0.848,0.448],"nice":false,"zero":false},"axis":{"values":[-0.8,-0.6,-0.4,-0.2,0,0.2,0.4],"labelExpr":"datum.value<-0.7?'-0.8':abs(datum.value+0.4)<0.01?'-0.4':abs(datum.value)<0.01?'0.0':datum.value>0.3?'0.4':''","title":null}},
 "color":{"field":"m","type":"nominal","scale":{"domain":["M1","M2","M3","M4"],"range":["#9c9c9c","#a6a6a6","#000000","#000000"]},"legend":null},
 "strokeDash":{"field":"m","type":"nominal","scale":{"domain":["M1","M2","M3","M4"],"range":[[1,0],[5,3],[1,0],[5,3]]},"legend":null}}}
]
}
